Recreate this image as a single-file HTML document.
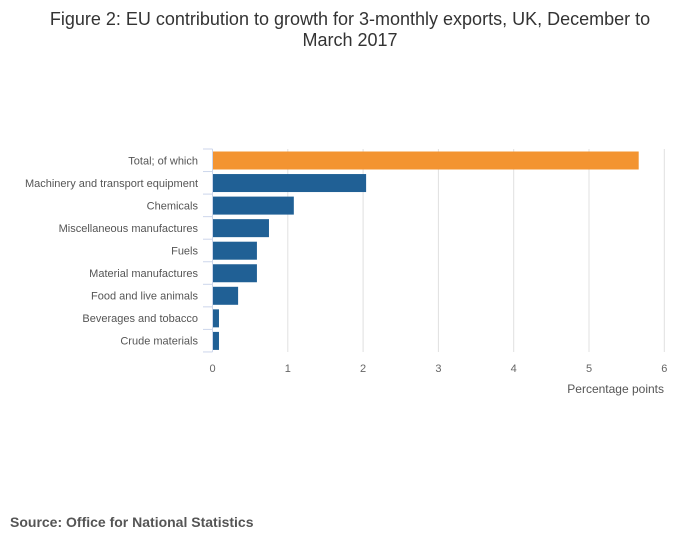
<!DOCTYPE html>
<html><head><meta charset="utf-8"><style>
body{margin:0;background:#fff;font-family:"Liberation Sans",sans-serif;}
</style></head><body>
<svg width="700" height="549" xmlns="http://www.w3.org/2000/svg" id="svg">
<text x="350" y="25" text-anchor="middle" font-size="18" fill="#333">Figure 2: EU contribution to growth for 3-monthly exports, UK, December to</text>
<text x="350" y="46" text-anchor="middle" font-size="18" fill="#333">March 2017</text>
<g id="plot"></g>
<text x="664" y="393" text-anchor="end" font-size="12" fill="#555">Percentage points</text>
<text x="10" y="527" font-size="14" font-weight="bold" fill="#555">Source: Office for National Statistics</text>
</svg>
<script>
const categories=["Total; of which","Machinery and transport equipment","Chemicals","Miscellaneous manufactures","Fuels","Material manufactures","Food and live animals","Beverages and tobacco","Crude materials"];
const values=[5.66,2.04,1.08,0.75,0.59,0.59,0.34,0.086,0.086];
const ticks=[0,1,2,3,4,5,6];
const x0=212.5,kx=75.3,plotTop=149,band=22.55;
const X=v=>x0+v*kx, Y=i=>plotTop+i*band;
const g=document.getElementById('plot');
const NS='http://www.w3.org/2000/svg';
function mk(t,a){const e=document.createElementNS(NS,t);for(const k in a)e.setAttribute(k,a[k]);g.appendChild(e);return e;}
ticks.forEach(t=>{
 if(t>0){const l=mk('line',{x1:X(t),x2:X(t),y1:plotTop,y2:plotTop+9*band,stroke:'#e0e0e0'});
 
 }
 const tx=mk('text',{x:X(t),y:372,'text-anchor':'middle','font-size':11,fill:'#666'});tx.textContent=t;
 
 
});
const ax=mk('line',{x1:x0,x2:x0,y1:plotTop,y2:plotTop+9*band,stroke:'#ccd6eb'});


for(let i=0;i<=9;i++){const tk=mk('line',{x1:203,x2:x0,y1:Y(i),y2:Y(i),stroke:'#ccd6eb'});
 
 }
categories.forEach((c,i)=>{
 const r=mk('rect',{x:x0+0.5,y:Y(i)+2.5,width:X(values[i])-x0-0.5,height:18,fill:i==0?'#f39431':'#206095'});
 
 
 const t=mk('text',{x:198,y:Y(i)+band/2+4,'text-anchor':'end','font-size':11,fill:'#555'});t.textContent=c;
 
 
});
</script>
</body></html>
